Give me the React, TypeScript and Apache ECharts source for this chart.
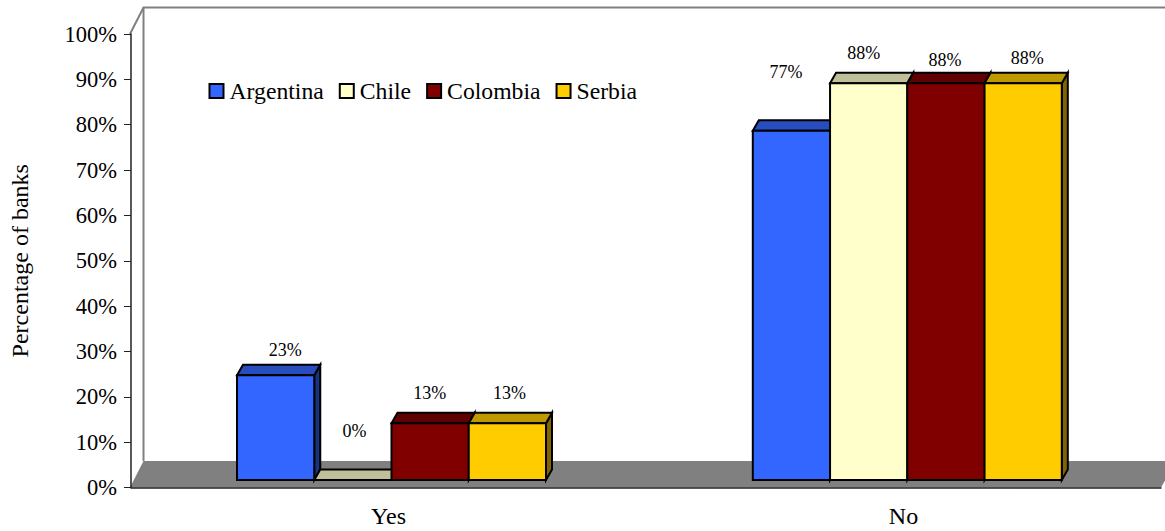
import React, { useEffect, useRef } from "react";
import * as echarts from "echarts";

const categories = ["Yes", "No"];
const countries = ["Argentina", "Chile", "Colombia", "Serbia"];
const argentina = [23.1, 77];
const chile = [0, 87.5];
const colombia = [12.5, 87.5];
const serbia = [12.5, 87.5];
const seriesValues = [argentina, chile, colombia, serbia];

const faceColors = ["#3366FF", "#FFFFCC", "#800000", "#FFCC00"];
const topColors = ["#274DBF", "#BFBF99", "#600000", "#BF9900"];
const sideColors = ["#1A3380", "#808066", "#400000", "#806600"];

// label nudges [dx, dy] from the bar's front-top centre, by series then category
const labelNudge = [
  [[9.5, -25], [-5.5, -59]],
  [[1.5, -49], [-5, -30]],
  [[-0.5, -30], [-1, -23]],
  [[2, -30], [4, -25]],
];

const FONT = "'Liberation Serif', 'Times New Roman', serif";
const W = 1165;
const H = 531;
const GRID = { left: 130, top: 34, width: 1031, height: 453.5 };
const FLOOR_RISE = 26.5;
const WALL_X = 13.5;
const BAR_LIFT = 7.5;
const DEPTH_X = 6;
const DEPTH_Y = 10.5;
const GROUP_SHIFT = [3, 3.8];
const WALL_COLOR = "#808080";

function barRenderer(s: number) {
  return (_params: any, api: any) => {
    const cat = api.value(0);
    const val = api.value(1);
    const top = api.coord([cat, val]);
    const base = api.coord([cat, 0]);
    const band = api.size([1, 0])[0];
    const bw = (band * 0.6) / 4;
    const x0 = top[0] + GROUP_SHIFT[cat] - 2 * bw + s * bw;
    const x1 = x0 + bw;
    const y0 = base[1] - BAR_LIFT;
    const y1 = top[1] - BAR_LIFT;
    const line = { stroke: "#000", lineWidth: 2, lineJoin: "miter" };
    const nudge = labelNudge[s][cat];
    const children: any[] = [
      {
        type: "polygon",
        shape: { points: [[x1, y0], [x1 + DEPTH_X, y0 - DEPTH_Y], [x1 + DEPTH_X, y1 - DEPTH_Y], [x1, y1]] },
        style: { fill: sideColors[s], ...line },
      },
      {
        type: "polygon",
        shape: { points: [[x0, y1], [x0 + DEPTH_X, y1 - DEPTH_Y], [x1 + DEPTH_X, y1 - DEPTH_Y], [x1, y1]] },
        style: { fill: topColors[s], ...line },
      },
    ];
    if (val > 0) {
      children.push({
        type: "rect",
        shape: { x: x0, y: y1, width: bw, height: y0 - y1 },
        style: { fill: faceColors[s], ...line },
      });
    }
    children.push({
      type: "text",
      z2: 10,
      style: {
        text: Math.round(val) + "%",
        x: (x0 + x1) / 2 + nudge[0],
        y: y1 + nudge[1],
        align: "center",
        verticalAlign: "middle",
        font: `18px ${FONT}`,
        fill: "#000",
      },
    });
    return { type: "group", children };
  };
}

export default function App() {
  const ref = useRef<HTMLDivElement>(null);
  useEffect(() => {
    document.body.style.margin = "0";
    document.body.style.overflow = "hidden";
    const chart = echarts.init(ref.current!, null, { renderer: "svg" });
    const gx = GRID.left;
    const gy = GRID.top + GRID.height;
    const gr = gx + GRID.width;
    chart.setOption({
      animation: false,
      backgroundColor: "#fff",
      textStyle: { fontFamily: FONT },
      grid: { ...GRID },
      legend: {
        left: 208.5,
        top: 79,
        padding: 0,
        icon: "rect",
        itemWidth: 14,
        itemHeight: 14,
        itemGap: 15,
        selectedMode: false,
        data: countries,
        itemStyle: { borderColor: "#000", borderWidth: 2 },
        textStyle: { fontFamily: FONT, fontSize: 23.7, color: "#000", padding: [0, 0, 0, 1] },
      },
      graphic: [
        {
          type: "polygon",
          z: 0,
          shape: {
            points: [
              [gx, gy],
              [gx + WALL_X, gy - FLOOR_RISE],
              [W, gy - FLOOR_RISE],
              [W, gy - 7],
              [gr, gy],
            ],
          },
          style: { fill: WALL_COLOR },
        },
        {
          type: "polyline",
          z: 0,
          shape: {
            points: [
              [gx, GRID.top],
              [gx + WALL_X, GRID.top - FLOOR_RISE],
              [W, GRID.top - FLOOR_RISE],
            ],
          },
          style: { stroke: WALL_COLOR, lineWidth: 2, fill: "none" },
        },
        {
          type: "line",
          z: 0,
          shape: { x1: gx + WALL_X, y1: GRID.top - FLOOR_RISE, x2: gx + WALL_X, y2: gy - FLOOR_RISE },
          style: { stroke: WALL_COLOR, lineWidth: 2 },
        },
      ],
      xAxis: {
        type: "category",
        data: categories,
        z: 1,
        axisLine: { lineStyle: { color: "#222", width: 1.5 } },
        axisTick: { length: 7, lineStyle: { color: "#222", width: 1 } },
        axisLabel: { fontFamily: FONT, fontSize: 24, color: "#000", margin: 16 },
      },
      yAxis: {
        type: "value",
        min: 0,
        max: 100,
        interval: 10,
        z: 1,
        name: "Percentage of banks",
        nameLocation: "middle",
        nameGap: 99,
        nameTextStyle: { fontFamily: FONT, fontSize: 24, color: "#000" },
        splitLine: { show: false },
        axisLine: { show: true, lineStyle: { color: "#222", width: 1.5 } },
        axisTick: { show: true, length: 7, lineStyle: { color: "#222", width: 1 } },
        axisLabel: { fontFamily: FONT, fontSize: 22.5, color: "#000", margin: 14, formatter: "{value}%" },
      },
      series: countries.map((name, s) => ({
        type: "custom",
        name,
        coordinateSystem: "cartesian2d",
        clip: false,
        z: 2 + s,
        encode: { x: 0, y: 1 },
        itemStyle: { color: faceColors[s] },
        data: seriesValues[s].map((v, i) => [i, v]),
        renderItem: barRenderer(s),
      })),
    });
    return () => chart.dispose();
  }, []);
  return <div ref={ref} style={{ width: W, height: H }} />;
}
